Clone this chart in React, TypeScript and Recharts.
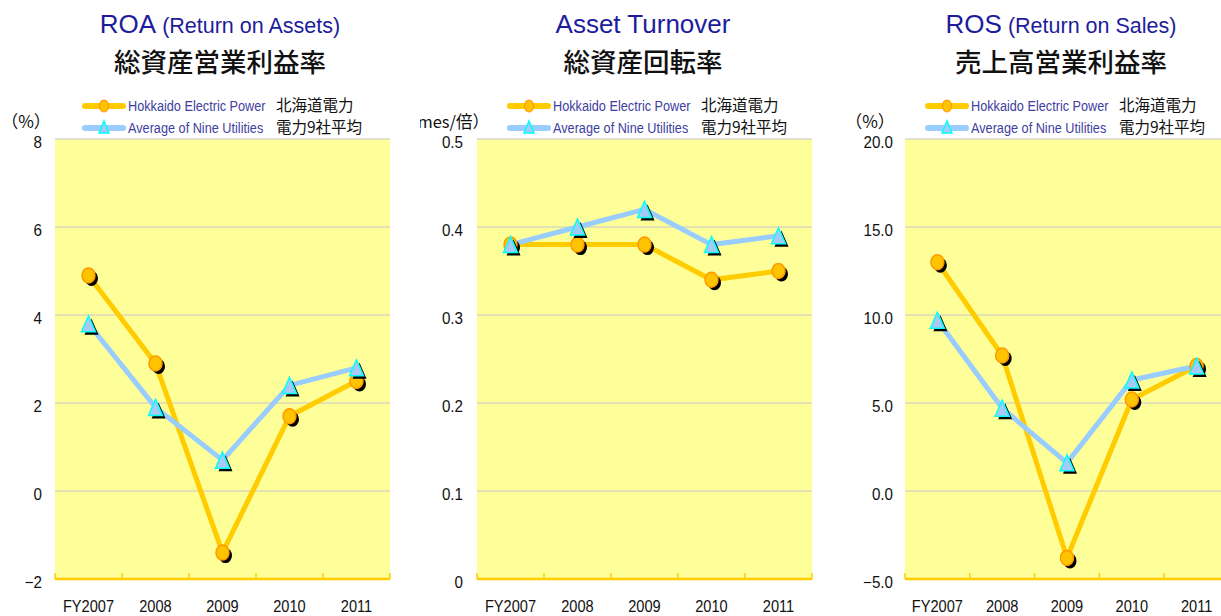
import React from 'react';
import { LineChart, Line, XAxis, YAxis, CartesianGrid } from 'recharts';

const years = ['FY2007', '2008', '2009', '2010', '2011'];

const roaHokkaido = [4.9, 2.9, -1.4, 1.7, 2.5];
const roaAverage = [3.8, 1.9, 0.7, 2.4, 2.8];
const roaTicks = [-2, 0, 2, 4, 6, 8];

const atHokkaido = [0.38, 0.38, 0.38, 0.34, 0.35];
const atAverage = [0.38, 0.4, 0.42, 0.38, 0.39];
const atTicks = [0, 0.1, 0.2, 0.3, 0.4, 0.5];

const rosHokkaido = [13.0, 7.7, -3.8, 5.2, 7.1];
const rosAverage = [9.7, 4.7, 1.6, 6.3, 7.1];
const rosTicks = [-5, 0, 5, 10, 15, 20];

const seriesNames = ['Hokkaido Electric Power', 'Average of Nine Utilities'];
const seriesNamesJa = ['北海道電力', '電力9社平均'];

const boundaryTicks = [0, 1, 2, 3, 4, 5];

const buildData = (h: number[], a: number[]) =>
  years.map((year, i) => ({ year, pos: i + 0.5, hokkaido: h[i], average: a[i] }));

const ORANGE = '#ffcc00';
const BLUE = '#99ccff';
const LATIN = '"Liberation Sans", Arial, sans-serif';
const CJK = '"Noto Sans CJK JP", sans-serif';

const CircleDot = (props: any) => {
  const { cx, cy } = props;
  if (cx == null || cy == null) return null;
  return (
    <g>
      <ellipse cx={cx + 3} cy={cy + 3} rx={6.5} ry={7.5} fill="#000" />
      <ellipse cx={cx} cy={cy} rx={6.5} ry={7.5} fill="#ffc400" stroke="#ff9900" strokeWidth={1.5} />
    </g>
  );
};

const triPath = (cx: number, cy: number, w: number, h: number) =>
  `M${cx},${cy - h / 2} L${cx + w / 2},${cy + h / 2} L${cx - w / 2},${cy + h / 2} Z`;

const TriDot = (props: any) => {
  const { cx, cy } = props;
  if (cx == null || cy == null) return null;
  return (
    <g>
      <path d={triPath(cx + 3, cy + 3, 14, 16)} fill="#000" />
      <path d={triPath(cx, cy, 14, 16)} fill="#a6caf5" stroke="#00ffff" strokeWidth={1.5} />
    </g>
  );
};

const makeXTick = (half: number) => (props: any) => {
  const { x, y, payload } = props;
  const v = payload.value as number;
  return (
    <g>
      <line x1={x} x2={x} y1={y - 6} y2={y} stroke={ORANGE} strokeWidth={1.5} />
      {v < years.length && (
        <g transform={`translate(${x + half},${y + 33}) scale(0.86,1)`}>
          <text x={0} y={0} textAnchor="middle" fontSize={17} fontFamily={LATIN} fill="#111">
            {years[v]}
          </text>
        </g>
      )}
    </g>
  );
};

const makeYTick = (fmt: (v: number) => string, gap: number) => (props: any) => {
  const { x, y, payload } = props;
  return (
    <g transform={`translate(${x - gap},${y + 9}) scale(0.92,1)`}>
      <text x={0} y={0} textAnchor="end" fontSize={16.5} fontFamily={LATIN} fill="#111">
        {fmt(payload.value)}
      </text>
    </g>
  );
};

const fmtRoa = (v: number) => (v < 0 ? '\u2212' + Math.abs(v) : String(v));
const fmtAt = (v: number) => (v === 0 ? '0' : v.toFixed(1));
const fmtRos = (v: number) => (v < 0 ? '\u2212' + Math.abs(v).toFixed(1) : v.toFixed(1));

type PanelProps = {
  left: number;
  clipWidth: number;
  chartWidth: number;
  yAxisWidth: number;
  rightMargin: number;
  h: number[];
  a: number[];
  ticks: number[];
  fmt: (v: number) => string;
  gap: number;
};

const Panel = ({ left, clipWidth, chartWidth, yAxisWidth, rightMargin, h, a, ticks, fmt, gap }: PanelProps) => {
  const data = buildData(h, a);
  const plotW = chartWidth - yAxisWidth - rightMargin;
  const half = plotW / years.length / 2;
  return (
    <div style={{ position: 'absolute', left, top: 0, width: clipWidth, height: 616, overflow: 'hidden' }}>
      <LineChart width={chartWidth} height={616} data={data} margin={{ top: 139, right: rightMargin, bottom: 0, left: 0 }}>
        <CartesianGrid vertical={false} stroke="#c4c4cc" fill="#ffff99" fillOpacity={1} />
        <XAxis
          dataKey="pos"
          type="number"
          domain={[0, 5]}
          ticks={boundaryTicks}
          interval={0}
          height={37}
          tickSize={0}
          tickMargin={0}
          tickLine={false}
          axisLine={{ stroke: ORANGE, strokeWidth: 2.5 }}
          tick={makeXTick(half)}
        />
        <YAxis
          type="number"
          domain={[ticks[0], ticks[ticks.length - 1]]}
          ticks={ticks}
          interval={0}
          width={yAxisWidth}
          tickSize={0}
          tickMargin={0}
          tickLine={false}
          axisLine={false}
          tick={makeYTick(fmt, gap)}
        />
        <Line
          dataKey="hokkaido"
          name={seriesNames[0]}
          stroke={ORANGE}
          strokeWidth={5}
          dot={(p: any) => <CircleDot key={'h' + p.index} {...p} />}
          activeDot={false}
          isAnimationActive={false}
        />
        <Line
          dataKey="average"
          name={seriesNames[1]}
          stroke={BLUE}
          strokeWidth={5}
          dot={(p: any) => <TriDot key={'a' + p.index} {...p} />}
          activeDot={false}
          isAnimationActive={false}
        />
      </LineChart>
    </div>
  );
};

const LegendBlock = ({ x }: { x: number }) => {
  const rows = [
    { y: 106, color: ORANGE, marker: 'circle' },
    { y: 128, color: BLUE, marker: 'tri' },
  ];
  return (
    <g>
      {rows.map((r, i) => (
        <g key={i}>
          <line x1={x + 2} x2={x + 40} y1={r.y} y2={r.y} stroke={r.color} strokeWidth={6} strokeLinecap="round" />
          {r.marker === 'circle' ? (
            <ellipse cx={x + 21} cy={r.y} rx={4.5} ry={6} fill="#ffc400" stroke="#ff9900" strokeWidth={1.2} />
          ) : (
            <path d={triPath(x + 21, r.y - 1, 10, 12)} fill="#a6caf5" stroke="#00ffff" strokeWidth={1.5} />
          )}
          <g transform={`translate(${x + 45},${r.y + 5}) scale(0.82,1)`}>
            <text x={0} y={0} fontSize={15.5} fontFamily={LATIN} fill="#4040a0">
              {seriesNames[i]}
            </text>
          </g>
          <text x={x + 193} y={r.y + 5} fontSize={15.5} fontFamily={CJK} fill="#111">
            {seriesNamesJa[i]}
          </text>
        </g>
      ))}
    </g>
  );
};

const Title = ({ cx, big, small, ja }: { cx: number; big: string; small: string; ja: string }) => (
  <g>
    <text x={cx} y={33} textAnchor="middle" fontFamily={LATIN} fill="#1c1c9c">
      <tspan fontSize={26}>{big}</tspan>
      {small && <tspan fontSize={21.5}>{' ' + small}</tspan>}
    </text>
    <text x={cx} y={72} textAnchor="middle" fontFamily={CJK} fontSize={26.5} fontWeight={500} fill="#111">
      {ja}
    </text>
  </g>
);

export default function App() {
  return (
    <div style={{ position: 'fixed', left: 0, top: 0, width: 1221, height: 616, overflow: 'hidden', background: '#fff' }}>
      <Panel left={0} clipWidth={410} chartWidth={410} yAxisWidth={55} rightMargin={20} h={roaHokkaido} a={roaAverage} ticks={roaTicks} fmt={fmtRoa} gap={13} />
      <Panel left={420} clipWidth={400} chartWidth={400} yAxisWidth={57} rightMargin={8} h={atHokkaido} a={atAverage} ticks={atTicks} fmt={fmtAt} gap={14} />
      <Panel left={845} clipWidth={376} chartWidth={400} yAxisWidth={60} rightMargin={16} h={rosHokkaido} a={rosAverage} ticks={rosTicks} fmt={fmtRos} gap={12} />
      <svg width={1221} height={616} style={{ position: 'absolute', left: 0, top: 0, pointerEvents: 'none' }}>
        <Title cx={220} big="ROA" small="(Return on Assets)" ja="総資産営業利益率" />
        <Title cx={643} big="Asset Turnover" small="" ja="総資産回転率" />
        <Title cx={1061} big="ROS" small="(Return on Sales)" ja="売上高営業利益率" />
        <LegendBlock x={83} />
        <LegendBlock x={508} />
        <LegendBlock x={926} />
        <text x={26} y={128} textAnchor="middle" fontSize={17} fontFamily={CJK} fill="#111">（%）</text>
        <svg x={420} y={0} width={400} height={616} overflow="hidden">
          <text x={69} y={128} textAnchor="end" fontSize={16.5} fontFamily={CJK} fill="#111">（Times/倍）</text>
        </svg>
        <text x={870} y={128} textAnchor="middle" fontSize={17} fontFamily={CJK} fill="#111">（%）</text>
      </svg>
    </div>
  );
}
